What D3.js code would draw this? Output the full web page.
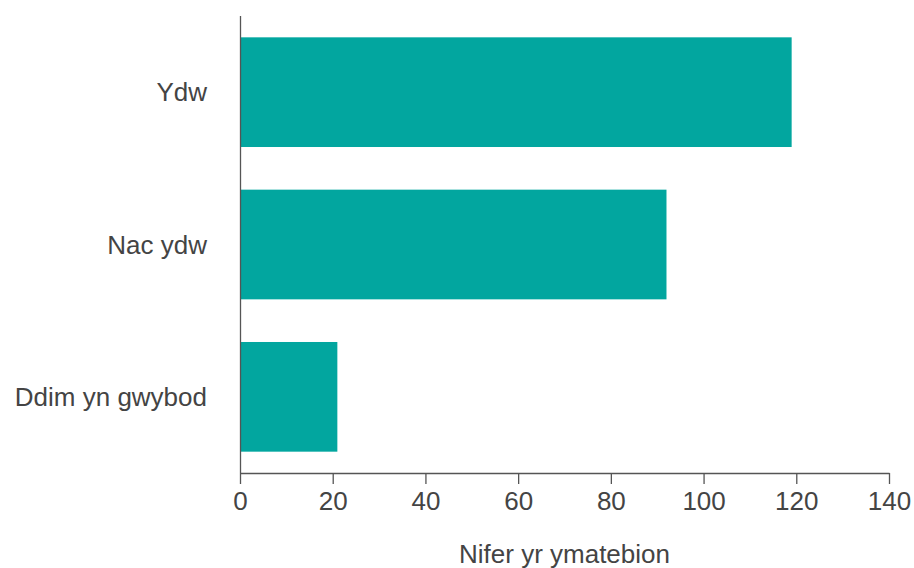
<!DOCTYPE html>
<html>
<head>
<meta charset="utf-8">
<script src="https://cdn.jsdelivr.net/npm/d3@7"></script>
<style>
  html, body { margin: 0; padding: 0; background: #fff; }
  svg { display: block; font-family: "Liberation Sans", Arial, Helvetica, sans-serif; }
</style>
</head>
<body>
<svg id="chart" width="914" height="568"></svg>
<script>
const categories = ["Ydw", "Nac ydw", "Ddim yn gwybod"];
const values = [119, 92, 21];
const xTicks = [0, 20, 40, 60, 80, 100, 120, 140];
const xTitle = "Nifer yr ymatebion";

const W = 914, H = 568;
const margin = { top: 16, right: 25, bottom: 95, left: 240 };
const svg = d3.select("#chart");

const x = d3.scaleLinear().domain([0, 140]).range([margin.left, W - margin.right]);
const y = d3.scaleBand().domain(categories)
  .range([margin.top, H - margin.bottom])
  .paddingInner(0.28).paddingOuter(0.14);

const data = categories.map((c, i) => ({ c, v: values[i] }));

svg.append("g").selectAll("rect").data(data).join("rect")
  .attr("x", x(0))
  .attr("y", d => y(d.c))
  .attr("width", d => x(d.v) - x(0))
  .attr("height", y.bandwidth())
  .attr("fill", "#02A69F");

// x axis
const xAxis = svg.append("g")
  .attr("transform", `translate(0,${H - margin.bottom})`)
  .call(d3.axisBottom(x).tickValues(xTicks).tickSize(11).tickSizeOuter(0).tickPadding(8));
xAxis.select(".domain").attr("stroke", "#555").attr("stroke-width", 1.3);
xAxis.selectAll(".tick line").attr("stroke", "#555").attr("stroke-width", 1.3);
xAxis.selectAll(".tick text").attr("fill", "#444").style("font-size", "26px")
  .style("font-family", "'Liberation Sans', Arial, sans-serif");

// y axis
const yAxis = svg.append("g")
  .attr("transform", `translate(${margin.left},0)`)
  .call(d3.axisLeft(y).tickSize(0).tickSizeOuter(0).tickPadding(33));
yAxis.select(".domain").attr("stroke", "#555").attr("stroke-width", 1.3)
  .attr("d", `M0.5,${margin.top}V${H - margin.bottom}`);
yAxis.selectAll(".tick text").attr("fill", "#444").style("font-size", "26px")
  .attr("dy", "0.35em")
  .style("font-family", "'Liberation Sans', Arial, sans-serif");

svg.append("text")
  .attr("x", (x.range()[0] + x.range()[1]) / 2)
  .attr("y", 563)
  .attr("text-anchor", "middle")
  .attr("fill", "#444")
  .style("font-size", "26px")
  .text(xTitle);
</script>
</body>
</html>
